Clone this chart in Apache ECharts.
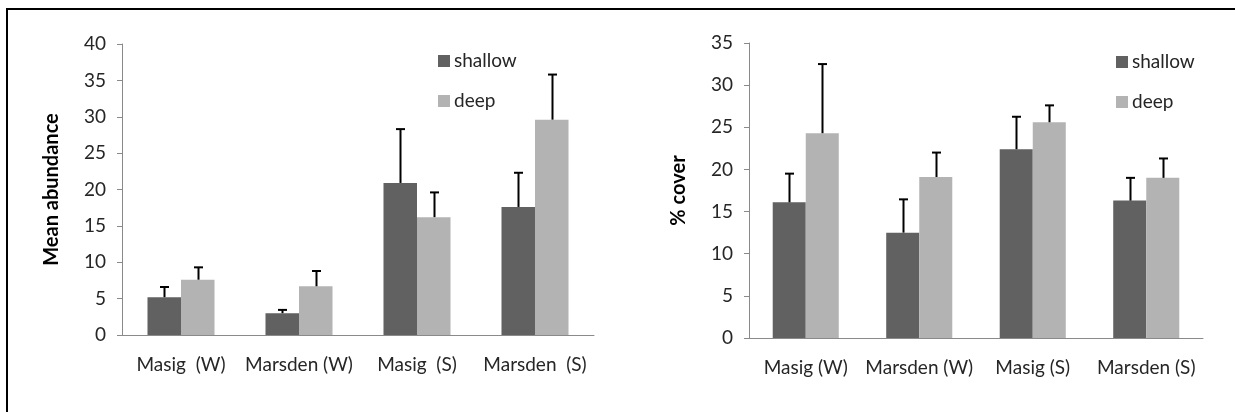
<!DOCTYPE html>
<html>
<head>
<meta charset="utf-8">
<script src="https://cdn.jsdelivr.net/npm/echarts@6/dist/echarts.min.js"></script>
<style>
  html, body { margin: 0; padding: 0; background: #fff; }
  #chart { width: 1235px; height: 412px; }
  #frame { position: absolute; left: 6px; top: 8px; right: 0; bottom: 0;
           border-top: 2px solid #000; border-left: 2px solid #000; pointer-events: none; }
</style>
</head>
<body>
<div id="chart"></div>
<div id="frame"></div>
<script>
// Sites and seasons
const abundanceCategories = ['Masig  (W)', 'Marsden (W)', 'Masig  (S)', 'Marsden  (S)'];
const coverCategories = ['Masig (W)', 'Marsden (W)', 'Masig (S)', 'Marsden (S)'];

// Mean abundance with upper error (SE)
const abundanceShallow = [5.2, 3.0, 20.9, 17.6];
const abundanceShallowErr = [1.4, 0.45, 7.4, 4.7];
const abundanceDeep = [7.6, 6.7, 16.2, 29.6];
const abundanceDeepErr = [1.7, 2.1, 3.4, 6.2];

// Percent cover with upper error (SE)
const coverShallow = [16.1, 12.5, 22.4, 16.3];
const coverShallowErr = [3.4, 3.95, 3.85, 2.7];
const coverDeep = [24.3, 19.1, 25.6, 19.0];
const coverDeepErr = [8.2, 2.9, 2.0, 2.3];

const FONT = 'Lato, "Open Sans", sans-serif';
const AXIS_GREY = '#8a8a8a';
const TEXT = '#262626';
const SHALLOW = '#616161';
const DEEP = '#b3b3b3';

function xAxisFor(gridIndex, cats) {
  return {
    type: 'category', gridIndex, data: cats,
    axisLine: { lineStyle: { color: AXIS_GREY, width: 1 } },
    axisTick: { length: 5, lineStyle: { color: AXIS_GREY } },
    axisLabel: { color: TEXT, fontFamily: FONT, fontSize: 19, margin: 20, interval: 0 }
  };
}

function yAxisFor(gridIndex, max, name) {
  return {
    type: 'value', gridIndex, min: 0, max, interval: 5,
    name, nameLocation: 'middle', nameGap: 60, nameRotate: 90,
    nameTextStyle: { color: '#000', fontFamily: FONT, fontSize: 20, fontWeight: 'bold' },
    axisLine: { show: true, lineStyle: { color: AXIS_GREY, width: 1 } },
    axisTick: { show: true, length: 5, lineStyle: { color: AXIS_GREY } },
    axisLabel: { color: TEXT, fontFamily: FONT, fontSize: 19, margin: 16 },
    splitLine: { show: false }
  };
}

function barSeries(name, idx, values, color, gap) {
  return {
    name, type: 'bar', xAxisIndex: idx, yAxisIndex: idx, data: values,
    barGap: '0%', barCategoryGap: gap * 100 + '%',
    itemStyle: { color }, emphasis: { disabled: true }, z: 2
  };
}

// Upper error whisker with a short cap, centred on its bar
function errorSeries(idx, values, errs, side, gap) {
  return {
    type: 'custom', xAxisIndex: idx, yAxisIndex: idx, z: 5, silent: true,
    data: values.map((v, i) => [i, v, v + errs[i]]),
    renderItem(params, api) {
      const band = api.size([1, 0])[0];
      const barW = band * (1 - gap) / 2;
      const base = api.coord([api.value(0), api.value(1)]);
      const top = api.coord([api.value(0), api.value(2)]);
      const x = Math.round(base[0] + side * barW / 2) + 0.5;
      const capHalf = 4.5;
      const style = { stroke: '#000', lineWidth: 2 };
      return {
        type: 'group',
        children: [
          { type: 'line', shape: { x1: x, y1: base[1], x2: x, y2: top[1] }, style },
          { type: 'line', shape: { x1: x - capHalf, y1: top[1], x2: x + capHalf, y2: top[1] }, style }
        ]
      };
    }
  };
}

function legendAt(left, top) {
  return {
    left, top, orient: 'vertical', data: ['shallow', 'deep'],
    icon: 'rect', itemWidth: 12, itemHeight: 12, itemGap: 20,
    textStyle: { color: TEXT, fontFamily: FONT, fontSize: 19, lineHeight: 20, padding: [0, 0, 0, -1] },
    selectedMode: false
  };
}

const GAP_L = 0.432, GAP_R = 0.418;

const chart = echarts.init(document.getElementById('chart'), null, { renderer: 'canvas' });
chart.setOption({
  animation: false,
  backgroundColor: '#fff',
  grid: [
    { left: 122, right: 641, top: 44, bottom: 77 },
    { left: 749, right: 32, top: 43, bottom: 74 }
  ],
  legend: [legendAt(433, 46), legendAt(1111, 47)],
  xAxis: [xAxisFor(0, abundanceCategories), xAxisFor(1, coverCategories)],
  yAxis: [yAxisFor(0, 40, 'Mean abundance'), yAxisFor(1, 35, '% cover')],
  series: [
    barSeries('shallow', 0, abundanceShallow, SHALLOW, GAP_L),
    barSeries('deep', 0, abundanceDeep, DEEP, GAP_L),
    errorSeries(0, abundanceShallow, abundanceShallowErr, -1, GAP_L),
    errorSeries(0, abundanceDeep, abundanceDeepErr, 1, GAP_L),
    barSeries('shallow', 1, coverShallow, SHALLOW, GAP_R),
    barSeries('deep', 1, coverDeep, DEEP, GAP_R),
    errorSeries(1, coverShallow, coverShallowErr, -1, GAP_R),
    errorSeries(1, coverDeep, coverDeepErr, 1, GAP_R)
  ]
});
</script>
</body>
</html>
